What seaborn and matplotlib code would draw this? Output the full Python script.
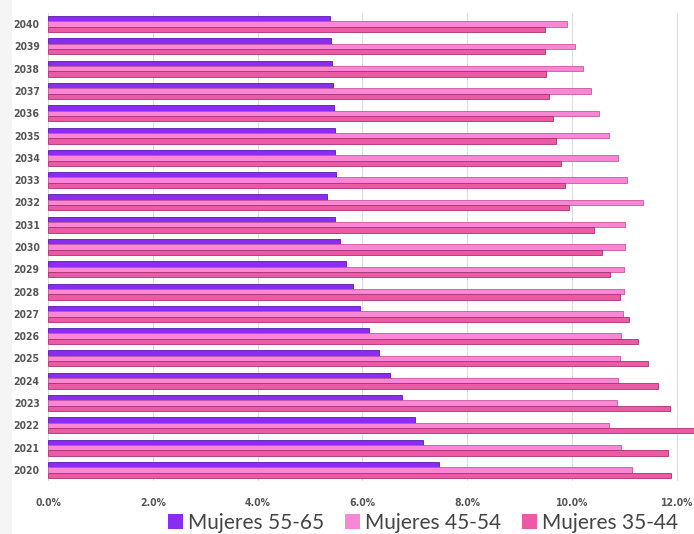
import numpy as np
import pandas as pd
import matplotlib
matplotlib.use("Agg")
import matplotlib.pyplot as plt
from matplotlib.patches import Rectangle
import seaborn as sns

years = [2040, 2039, 2038, 2037, 2036, 2035, 2034, 2033, 2032, 2031, 2030,
         2029, 2028, 2027, 2026, 2025, 2024, 2023, 2022, 2021, 2020]
series = ["Mujeres 55-65", "Mujeres 45-54", "Mujeres 35-44"]
m55_65 = [5.38, 5.41, 5.43, 5.44, 5.46, 5.48, 5.48, 5.49, 5.33, 5.47, 5.57,
          5.69, 5.82, 5.95, 6.12, 6.31, 6.52, 6.75, 7.00, 7.15, 7.47]
m45_54 = [9.91, 10.06, 10.22, 10.37, 10.52, 10.70, 10.88, 11.05, 11.35, 11.02, 11.02,
          11.00, 10.99, 10.97, 10.94, 10.91, 10.88, 10.86, 10.71, 10.94, 11.15]
m35_44 = [9.48, 9.49, 9.51, 9.56, 9.64, 9.70, 9.79, 9.87, 9.95, 10.42, 10.57,
          10.73, 10.92, 11.09, 11.26, 11.45, 11.64, 11.87, 12.40, 11.83, 11.90]
xticks = [0, 2, 4, 6, 8, 10, 12]
xtick_labels = ["0.0%", "2.0%", "4.0%", "6.0%", "8.0%", "10.0%", "12.0%"]

colors = ["#8B2CF2", "#FB86D6", "#EC5AA6"]
edges = ["#5a1aa8", "#c45a9e", "#a8336f"]

rows = []
for name, vals in zip(series, [m55_65, m45_54, m35_44]):
    for y, v in zip(years, vals):
        rows.append({"year": str(y), "value": v, "serie": name})
df = pd.DataFrame(rows)

sns.set_theme(style="white")
fig = plt.figure(figsize=(6.94, 5.34), dpi=100)
fig.patch.set_facecolor("white")
fig.patches.append(Rectangle((0, 0), 11 / 694, 1, transform=fig.transFigure,
                             color="#f5f5f5", zorder=0))
ax = fig.add_axes([48 / 694, 53 / 534, 1 - 48 / 694, 468 / 534])

sns.barplot(data=df, x="value", y="year", hue="serie", orient="h",
            order=[str(y) for y in years], hue_order=series,
            palette=colors, width=0.72, saturation=1, ax=ax, legend=False,
            linewidth=0.6)
for cont, ec in zip(ax.containers, edges):
    for bar in cont:
        bar.set_edgecolor(ec)

ax.set_xlim(0, 12.33)
ax.set_xticks(xticks)
ax.set_xticklabels(xtick_labels)
ax.set_xlabel("")
ax.set_ylabel("")
ax.grid(axis="x", color="#dddddd", linewidth=0.8)
ax.set_axisbelow(True)
for s in ["top", "right", "bottom", "left"]:
    ax.spines[s].set_visible(False)
ax.axvline(0, color="#d8d8d8", linewidth=0.8, zorder=0)
ax.tick_params(axis="both", length=0)
ax.tick_params(axis="x", pad=12)
ax.tick_params(axis="y", pad=6)
for lab in ax.get_xticklabels() + ax.get_yticklabels():
    lab.set_family("DejaVu Sans")
    lab.set_fontstretch("condensed")
    lab.set_fontweight("bold")
    lab.set_fontsize(7.5)
    lab.set_color("#555555")

handles = [Rectangle((0, 0), 1, 1, facecolor=c, edgecolor="none") for c in colors]
fig.legend(handles, series, loc="center", bbox_to_anchor=(423 / 694, 1 - 523 / 534),
           ncol=3, frameon=False, handlelength=0.72, handleheight=0.72,
           handletextpad=0.25, columnspacing=1.0,
           prop={"family": "Lato", "size": 15}, labelcolor="#444444")

fig.savefig("out.png", dpi=100)
